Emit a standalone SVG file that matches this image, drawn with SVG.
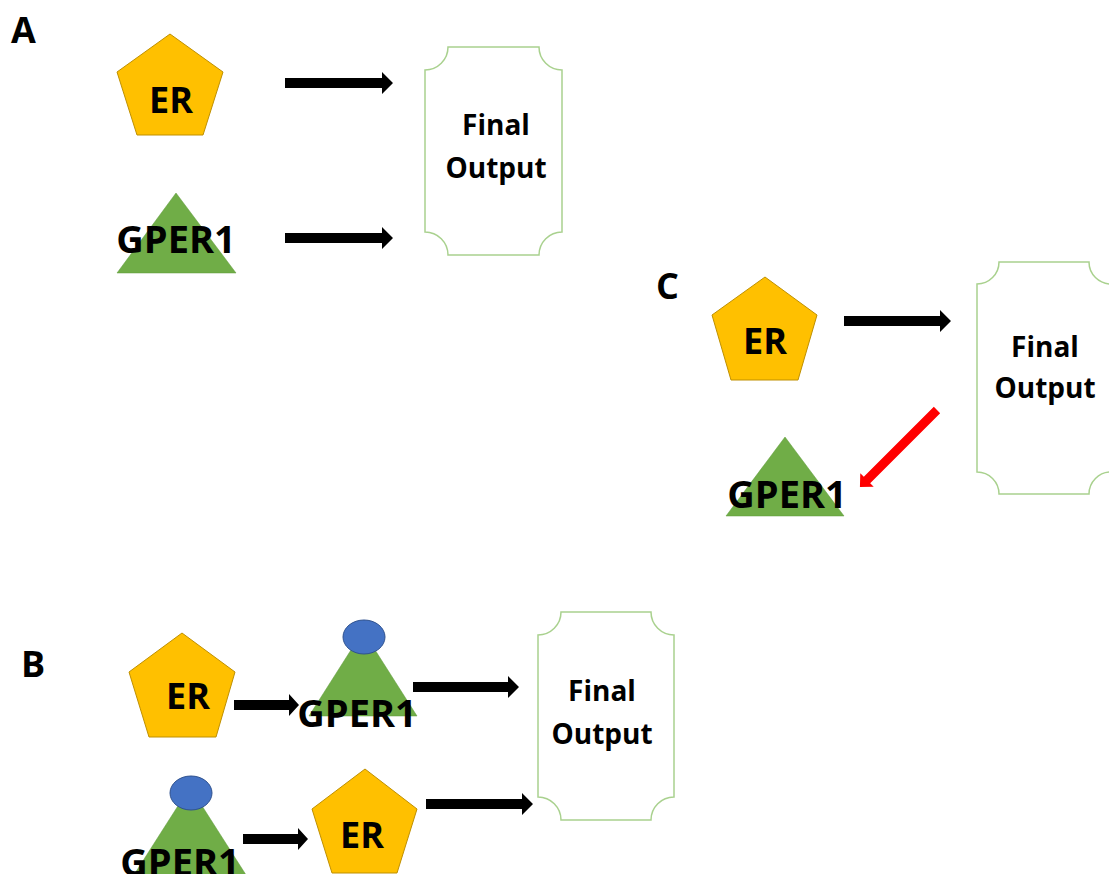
<svg xmlns="http://www.w3.org/2000/svg" width="1109" height="874" viewBox="0 0 1109 874">
<style>
.pent{fill:#FFC000;stroke:#BF9000;stroke-width:1}
.tri{fill:#70AD47;stroke:#5E9A3A;stroke-width:0.5}
.lig{fill:#4472C4;stroke:#2F528F;stroke-width:1}
.box{fill:#FFFFFF;stroke:#A9D18E;stroke-width:1.5}
.arr{fill:#000000}
.red{fill:#FF0000}
text{font-family:"Open Sans","Liberation Sans",sans-serif;font-weight:bold;fill:#000000;text-anchor:middle}
.lbl{font-size:36px;text-anchor:start}
.er{font-size:36px}
.gp{font-size:38px}
.fo{font-size:28px}
</style>
<rect width="1109" height="874" fill="#FFFFFF"/>
<g id="labels">
<text class="lbl" x="11" y="43">A</text>
<text class="lbl" x="21" y="677">B</text>
<text class="lbl" x="656" y="299">C</text>
</g>
<g id="connectors">
<polygon class="arr" points="285,78 382,78 382,72 393,83 382,94 382,88 285,88"/>
<polygon class="arr" points="285,233 382,233 382,227 393,238 382,249 382,243 285,243"/>
<polygon class="arr" points="844,316 940,316 940,310 951,321 940,332 940,326 844,326"/>
<polygon class="arr" points="413,682 508,682 508,676 519,687 508,698 508,692 413,692"/>
<polygon class="arr" points="426,799 522,799 522,793 533,804 522,815 522,809 426,809"/>
<polygon class="arr" points="234,700 289,700 289,694 299,705 289,716 289,710 234,710"/>
<polygon class="arr" points="243,834 298,834 298,828 308,839 298,850 298,844 243,844"/>
<polygon class="red" transform="translate(937,410) rotate(135)" points="0,-4.5 99,-4.5 99,-9.5 109,0 99,9.5 99,4.5 0,4.5"/>
</g>
<g id="A-ER">
<polygon class="pent" points="170,34 223,72 203,135 137,135 117,72"/>
<text class="er" x="171" y="113">ER</text>
</g>
<g id="A-GPER1">
<polygon class="tri" points="176,193 236,273 117,273"/>
<text class="gp" x="176" y="253">GPER1</text>
</g>
<g id="A-output">
<path class="box" d="M448,47 H539 A23,23 0 0 0 562,70 V232 A23,23 0 0 0 539,255 H448 A23,23 0 0 0 425,232 V70 A23,23 0 0 0 448,47 Z"/>
<text class="fo" x="496" y="135">Final</text>
<text class="fo" x="496" y="178">Output</text>
</g>
<g id="C-ER">
<polygon class="pent" points="765,277 817,315 798,380 731,380 712,315"/>
<text class="er" x="765" y="354">ER</text>
</g>
<g id="C-GPER1">
<polygon class="tri" points="785,437 844,516 726,516"/>
<text class="gp" x="787" y="508">GPER1</text>
</g>
<g id="C-output">
<path class="box" d="M999,262 H1089 A22,22 0 0 0 1111,284 V472 A22,22 0 0 0 1089,494 H999 A22,22 0 0 0 977,472 V284 A22,22 0 0 0 999,262 Z"/>
<text class="fo" x="1045" y="357">Final</text>
<text class="fo" x="1045" y="398">Output</text>
</g>
<g id="B-ER1">
<polygon class="pent" points="182,633 235,672 216,737 149,737 129,672"/>
<text class="er" x="188" y="709">ER</text>
</g>
<g id="B-GPER1-1">
<polygon class="tri" points="363,631 417,716 309,716"/>
<ellipse class="lig" cx="364" cy="637" rx="21" ry="17"/>
<text class="gp" x="357" y="727">GPER1</text>
</g>
<g id="B-GPER1-2">
<polygon class="tri" points="190,787 248,878 132,878"/>
<ellipse class="lig" cx="191" cy="793" rx="21" ry="17"/>
<text class="gp" x="180" y="876">GPER1</text>
</g>
<g id="B-ER2">
<polygon class="pent" points="365,769 417,809 397,873 332,873 312,809"/>
<text class="er" x="362" y="848">ER</text>
</g>
<g id="B-output">
<path class="box" d="M561,612 H651 A23,23 0 0 0 674,635 V797 A23,23 0 0 0 651,820 H561 A23,23 0 0 0 538,797 V635 A23,23 0 0 0 561,612 Z"/>
<text class="fo" x="602" y="701">Final</text>
<text class="fo" x="602" y="744">Output</text>
</g>
</svg>
